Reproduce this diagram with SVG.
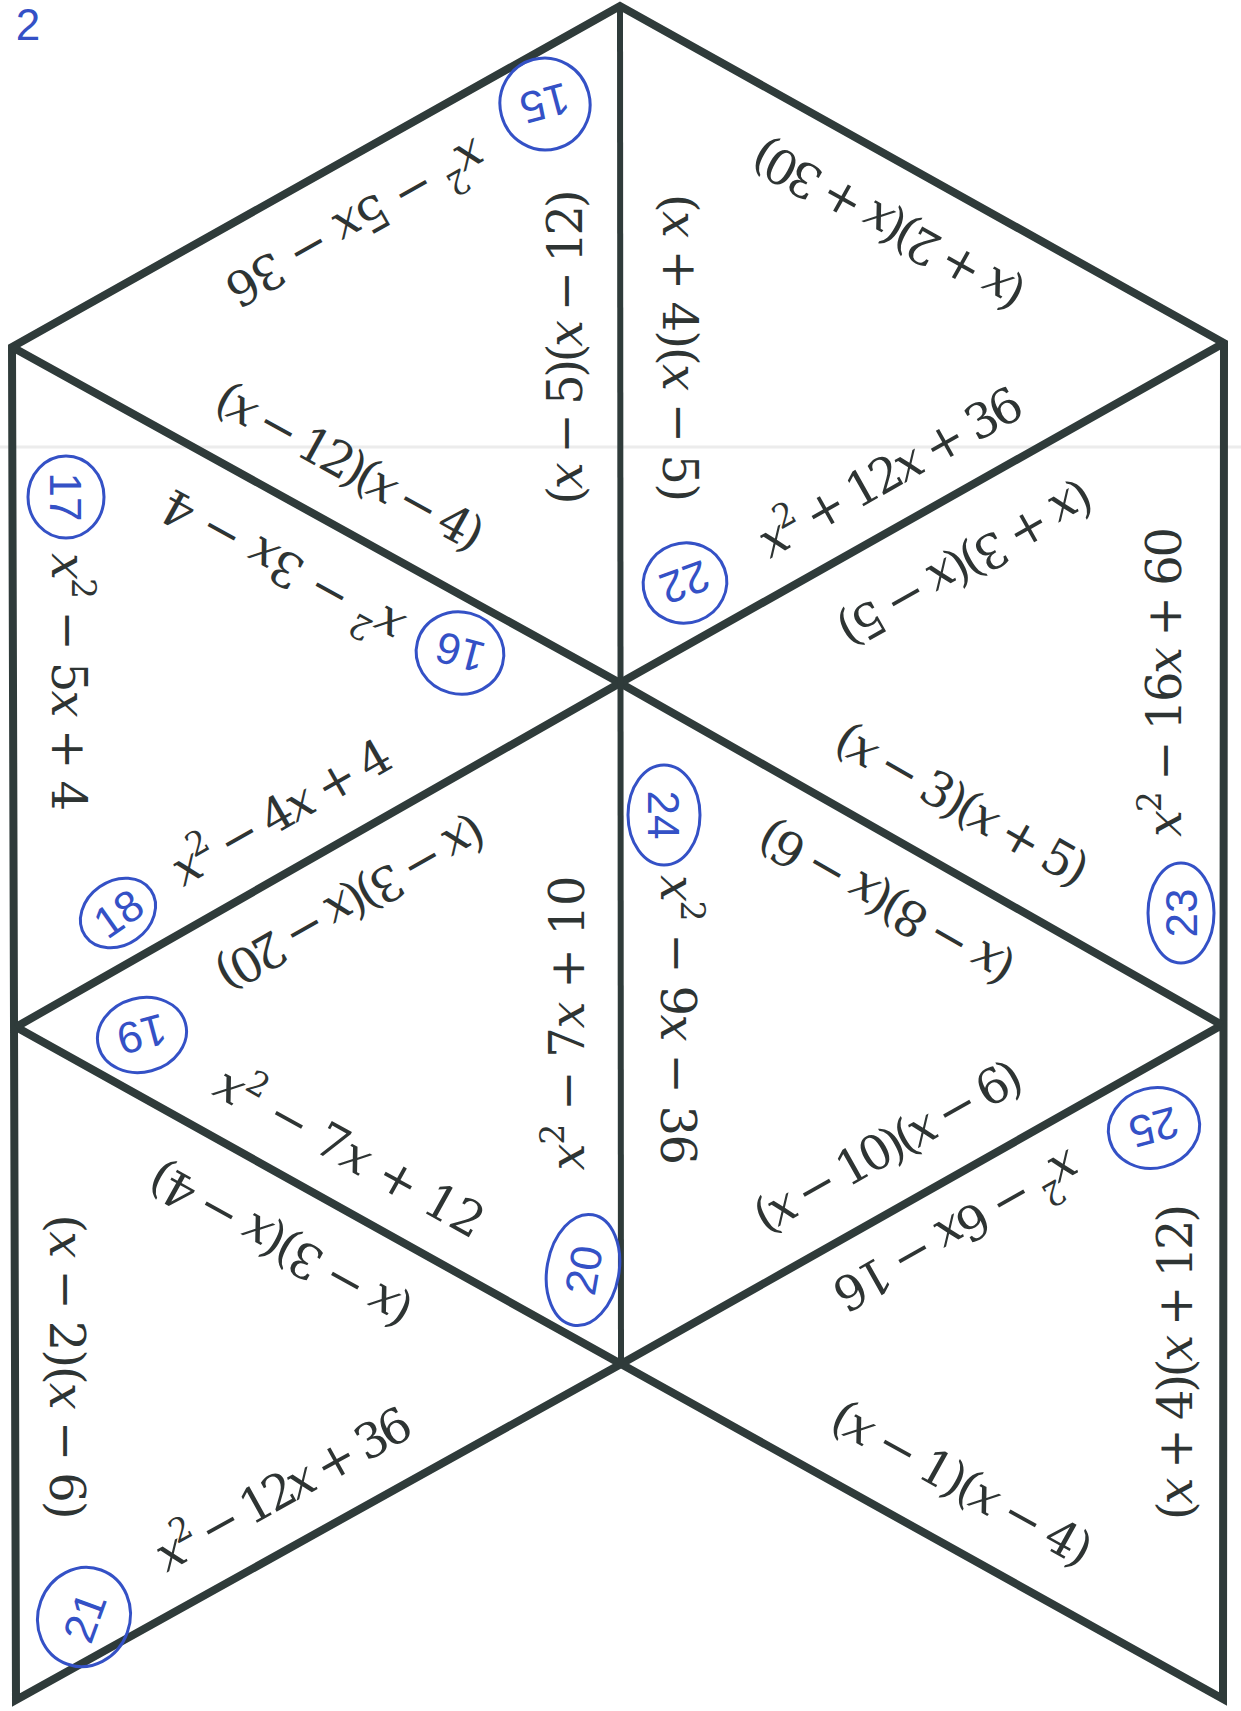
<svg xmlns="http://www.w3.org/2000/svg" width="1241" height="1711" viewBox="0 0 1241 1711">
<style>
.ln{fill:none;stroke:#2f3b3a;stroke-width:8;stroke-linejoin:miter;stroke-miterlimit:6}
.ln2{fill:none;stroke:#2f3b3a;stroke-width:6}
.scan{stroke:#ececec;stroke-width:3}
.m{font-family:'DejaVu Serif','Liberation Serif',serif;font-size:48px;fill:#2e3433;text-anchor:middle}
.i{font-style:italic}
.s{font-size:33px}
.c{fill:none;stroke:#3451c6;stroke-width:3}
.n{font-family:'Liberation Sans',Arial,sans-serif;font-size:44px;fill:#3451c6;text-anchor:middle}
</style>
<rect width="1241" height="1711" fill="#ffffff"/>
<line class="scan" x1="0" y1="447" x2="1241" y2="447"/>
<g id="connectors">
<polyline class="ln" points="1222,1025 621,1364 16,1700 12,347 620,6 1224,343 1223,1699 621,1364 16,1027"/>
<polyline class="ln" points="12,347 620,683 1222,1025"/>
<polyline class="ln" points="1224,343 620,683 16,1027"/>
<line class="ln2" x1="620" y1="6" x2="621" y2="1364"/>
</g>
<g id="corner-note"><text class="n" x="28" y="40" font-size="34">2</text></g>
<g id="tri-top-left">
<g transform="translate(357,225) rotate(150.7)"><text class="m" y="19" textLength="290" lengthAdjust="spacing"><tspan class="i">x</tspan><tspan class="s" dy="-20">2</tspan><tspan dy="20"> − 5</tspan><tspan class="i">x</tspan> − 36</text></g>
<g transform="translate(570,347) rotate(-90)"><text class="m" y="12" textLength="315" lengthAdjust="spacing">(<tspan class="i">x</tspan> − 5)(<tspan class="i">x</tspan> − 12)</text></g>
<g transform="translate(348,470) rotate(28.9)"><text class="m" y="12" textLength="298" lengthAdjust="spacing">(<tspan class="i">x</tspan> − 12)(<tspan class="i">x</tspan> − 4)</text></g>
<g transform="translate(545,104) rotate(165)"><ellipse class="c" rx="45" ry="46"/><text class="n" y="16">15</text></g>
</g>
<g id="tri-top-right">
<g transform="translate(890,222) rotate(209.2)"><text class="m" y="12" textLength="303" lengthAdjust="spacing">(<tspan class="i">x</tspan> + 2)(<tspan class="i">x</tspan> + 30)</text></g>
<g transform="translate(675,348) rotate(90)"><text class="m" y="12" textLength="308" lengthAdjust="spacing">(<tspan class="i">x</tspan> + 4)(<tspan class="i">x</tspan> − 5)</text></g>
<g transform="translate(889,470) rotate(-29.4)"><text class="m" y="19" textLength="295" lengthAdjust="spacing"><tspan class="i">x</tspan><tspan class="s" dy="-20">2</tspan><tspan dy="20"> + 12</tspan><tspan class="i">x</tspan> + 36</text></g>
<g transform="translate(685,583) rotate(160)"><ellipse class="c" rx="42" ry="40"/><text class="n" y="16">22</text></g>
</g>
<g id="tri-upper-left">
<g transform="translate(281,569) rotate(208.9)"><text class="m" y="19" textLength="268" lengthAdjust="spacing"><tspan class="i">x</tspan><tspan class="s" dy="-20">2</tspan><tspan dy="20"> − 3</tspan><tspan class="i">x</tspan> − 4</text></g>
<g transform="translate(71,682) rotate(90)"><text class="m" y="19" textLength="258" lengthAdjust="spacing"><tspan class="i">x</tspan><tspan class="s" dy="-20">2</tspan><tspan dy="20"> − 5</tspan><tspan class="i">x</tspan> + 4</text></g>
<g transform="translate(280,810) rotate(-29.7)"><text class="m" y="19" textLength="245" lengthAdjust="spacing"><tspan class="i">x</tspan><tspan class="s" dy="-20">2</tspan><tspan dy="20"> − 4</tspan><tspan class="i">x</tspan> + 4</text></g>
<g transform="translate(460,653) rotate(195)"><ellipse class="c" rx="44" ry="41"/><text class="n" y="16">16</text></g>
<g transform="translate(66,497) rotate(90)"><ellipse class="c" rx="41" ry="38"/><text class="n" y="16">17</text></g>
<g transform="translate(118,913) rotate(-35)"><ellipse class="c" rx="40" ry="32"/><text class="n" y="16">18</text></g>
</g>
<g id="tri-upper-right">
<g transform="translate(964,561) rotate(150.6)"><text class="m" y="12" textLength="285" lengthAdjust="spacing">(<tspan class="i">x</tspan> + 3)(<tspan class="i">x</tspan> − 5)</text></g>
<g transform="translate(1162,682) rotate(-90)"><text class="m" y="19" textLength="310" lengthAdjust="spacing"><tspan class="i">x</tspan><tspan class="s" dy="-20">2</tspan><tspan dy="20"> − 16</tspan><tspan class="i">x</tspan> + 60</text></g>
<g transform="translate(960,808) rotate(29.6)"><text class="m" y="12" textLength="282" lengthAdjust="spacing">(<tspan class="i">x</tspan> − 3)(<tspan class="i">x</tspan> + 5)</text></g>
<g transform="translate(1181,913) rotate(-90)"><ellipse class="c" rx="50" ry="33"/><text class="n" y="16">23</text></g>
</g>
<g id="tri-center-left">
<g transform="translate(349,900) rotate(150.3)"><text class="m" y="12" textLength="302" lengthAdjust="spacing">(<tspan class="i">x</tspan> − 3)(<tspan class="i">x</tspan> − 20)</text></g>
<g transform="translate(565,1023) rotate(-90)"><text class="m" y="19" textLength="295" lengthAdjust="spacing"><tspan class="i">x</tspan><tspan class="s" dy="-20">2</tspan><tspan dy="20"> − 7</tspan><tspan class="i">x</tspan> + 10</text></g>
<g transform="translate(351,1150) rotate(29.1)"><text class="m" y="19" textLength="300" lengthAdjust="spacing"><tspan class="i">x</tspan><tspan class="s" dy="-20">2</tspan><tspan dy="20"> − 7</tspan><tspan class="i">x</tspan> + 12</text></g>
<g transform="translate(142,1035) rotate(165)"><ellipse class="c" rx="45" ry="37"/><text class="n" y="16">19</text></g>
<g transform="translate(583,1270) rotate(-80)"><ellipse class="c" rx="56" ry="36"/><text class="n" y="16">20</text></g>
</g>
<g id="tri-center-right">
<g transform="translate(888,900) rotate(209.6)"><text class="m" y="12" textLength="285" lengthAdjust="spacing">(<tspan class="i">x</tspan> − 8)(<tspan class="i">x</tspan> − 6)</text></g>
<g transform="translate(680,1020) rotate(90)"><text class="m" y="19" textLength="290" lengthAdjust="spacing"><tspan class="i">x</tspan><tspan class="s" dy="-20">2</tspan><tspan dy="20"> − 9</tspan><tspan class="i">x</tspan> − 36</text></g>
<g transform="translate(890,1150) rotate(-29.4)"><text class="m" y="12" textLength="300" lengthAdjust="spacing">(<tspan class="i">x</tspan> − 10)(<tspan class="i">x</tspan> − 6)</text></g>
<g transform="translate(664,815) rotate(90)"><ellipse class="c" rx="50" ry="36"/><text class="n" y="16">24</text></g>
</g>
<g id="tri-lower-left">
<g transform="translate(282,1242) rotate(209.1)"><text class="m" y="12" textLength="292" lengthAdjust="spacing">(<tspan class="i">x</tspan> − 3)(<tspan class="i">x</tspan> − 4)</text></g>
<g transform="translate(62,1367) rotate(90)"><text class="m" y="12" textLength="305" lengthAdjust="spacing">(<tspan class="i">x</tspan> − 2)(<tspan class="i">x</tspan> − 6)</text></g>
<g transform="translate(282,1487) rotate(-29)"><text class="m" y="19" textLength="285" lengthAdjust="spacing"><tspan class="i">x</tspan><tspan class="s" dy="-20">2</tspan><tspan dy="20"> − 12</tspan><tspan class="i">x</tspan> + 36</text></g>
<g transform="translate(84,1617) rotate(-70)"><ellipse class="c" rx="50" ry="46"/><text class="n" y="16">21</text></g>
</g>
<g id="tri-lower-right">
<g transform="translate(958,1233) rotate(150.6)"><text class="m" y="19" textLength="275" lengthAdjust="spacing"><tspan class="i">x</tspan><tspan class="s" dy="-20">2</tspan><tspan dy="20"> − 6</tspan><tspan class="i">x</tspan> − 16</text></g>
<g transform="translate(1180,1362) rotate(-90)"><text class="m" y="12" textLength="316" lengthAdjust="spacing">(<tspan class="i">x</tspan> + 4)(<tspan class="i">x</tspan> + 12)</text></g>
<g transform="translate(960,1487) rotate(29.1)"><text class="m" y="12" textLength="290" lengthAdjust="spacing">(<tspan class="i">x</tspan> − 1)(<tspan class="i">x</tspan> − 4)</text></g>
<g transform="translate(1154,1128) rotate(165)"><ellipse class="c" rx="46" ry="40"/><text class="n" y="16">25</text></g>
</g>
</svg>
